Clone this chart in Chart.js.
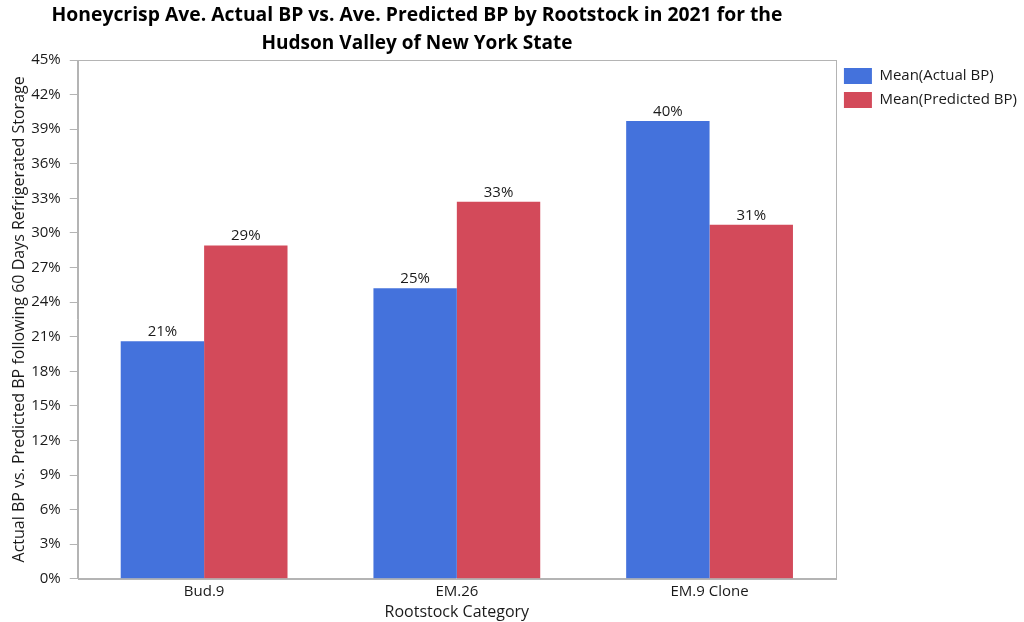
<!DOCTYPE html>
<html>
<head>
<meta charset="utf-8">
<script src="https://cdn.jsdelivr.net/npm/chart.js@4/dist/chart.umd.min.js"></script>
<style>
  html, body { margin: 0; padding: 0; background: #fff; }
  #wrap { width: 1024px; height: 622px; position: relative; }
</style>
</head>
<body>
<div id="wrap"><canvas id="c" width="1024" height="622"></canvas></div>
<script>
const titleLines = ["Honeycrisp Ave. Actual BP vs. Ave. Predicted BP by Rootstock in 2021 for the", "Hudson Valley of New York State"];
const categories = ["Bud.9", "EM.26", "EM.9 Clone"];
const seriesNames = ["Mean(Actual BP)", "Mean(Predicted BP)"];
const actualBP = [20.6, 25.2, 39.7];
const predictedBP = [28.9, 32.7, 30.7];
const yTicksMax = 45;
const yTickStep = 3;
const yAxisTitle = "Actual BP vs. Predicted BP following 60 Days Refrigerated Storage";
const xAxisTitle = "Rootstock Category";

const FONT = "'Open Sans', 'Noto Sans', sans-serif";
const TXT = "#1a1a1a";

const titlePlugin = {
  id: 'customTitle',
  afterDraw(chart) {
    const ctx = chart.ctx;
    ctx.save();
    ctx.fillStyle = "#000";
    ctx.font = "bold 19px " + FONT;
    ctx.textAlign = "center";
    ctx.textBaseline = "middle";
    const cx = 417;
    const targets = [731, 311];
    titleLines.forEach((t, i) => {
      const y = 16 + i * 28;
      const w = ctx.measureText(t).width;
      ctx.save();
      ctx.translate(cx, y);
      ctx.scale(targets[i] / w, 1);
      ctx.fillText(t, 0, 0);
      ctx.restore();
    });
    ctx.restore();
  }
};

const framePlugin = {
  id: 'frame',
  afterDatasetsDraw(chart) {
    const {ctx, chartArea: a} = chart;
    ctx.save();
    ctx.strokeStyle = "#b4b4b4";
    ctx.lineWidth = 1;
    ctx.strokeRect(Math.round(a.left) + 0.5, Math.round(a.top) + 0.5, Math.round(a.right - a.left), Math.round(a.bottom - a.top));
    ctx.restore();
  }
};

const labelPlugin = {
  id: 'valueLabels',
  afterDatasetsDraw(chart) {
    const ctx = chart.ctx;
    ctx.save();
    ctx.fillStyle = TXT;
    ctx.font = "15px " + FONT;
    ctx.textAlign = "center";
    ctx.textBaseline = "bottom";
    chart.data.datasets.forEach((ds, di) => {
      const meta = chart.getDatasetMeta(di);
      meta.data.forEach((el, i) => {
        ctx.fillText(Math.round(ds.data[i]) + "%", el.x, el.y - 2);
      });
    });
    ctx.restore();
  }
};

new Chart(document.getElementById('c'), {
  type: 'bar',
  data: {
    labels: categories,
    datasets: [
      { label: seriesNames[0], data: actualBP, backgroundColor: "#4472dc", categoryPercentage: 0.66, barPercentage: 1.0 },
      { label: seriesNames[1], data: predictedBP, backgroundColor: "#d34a5a", categoryPercentage: 0.66, barPercentage: 1.0 }
    ]
  },
  options: {
    responsive: false,
    animation: false,
    layout: { padding: { top: 60, left: 10, right: -3, bottom: 0 } },
    plugins: {
      title: { display: false },
      tooltip: { enabled: false },
      legend: {
        position: 'right',
        align: 'start',
        labels: {
          boxWidth: 28, boxHeight: 16, padding: 8,
          color: TXT,
          font: { family: FONT, size: 15, lineHeight: 0.8 }
        }
      }
    },
    scales: {
      x: {
        grid: { display: false, drawTicks: false },
        border: { display: true, color: "#b4b4b4" },
        ticks: { color: TXT, font: { family: FONT, size: 15 }, padding: 4 },
        title: { display: true, text: xAxisTitle, color: TXT, font: { family: FONT, size: 16 }, padding: { top: -2, bottom: 0 } }
      },
      y: {
        min: 0, max: yTicksMax,
        grid: { display: true, drawOnChartArea: false, drawTicks: true, tickLength: 8, color: "#b4b4b4" },
        border: { display: true, color: "#b4b4b4" },
        ticks: { stepSize: yTickStep, color: TXT, font: { family: FONT, size: 15 }, padding: 9, callback: v => v + "%" },
        title: { display: true, text: yAxisTitle, color: TXT, font: { family: FONT, size: 16 }, padding: { top: 0, bottom: -7 } }
      }
    }
  },
  plugins: [titlePlugin, framePlugin, labelPlugin]
});
</script>
</body>
</html>
